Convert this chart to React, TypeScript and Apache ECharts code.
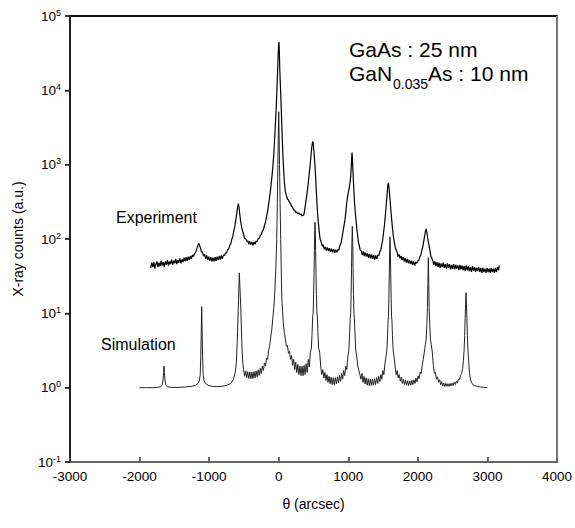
import React, { useEffect, useRef } from "react";
import * as echarts from "echarts";

// Tick values
const xTicks = [-3000, -2000, -1000, 0, 1000, 2000, 3000, 4000];
const yTicks = [0.1, 1, 10, 100, 1000, 10000, 100000];
const yMin = 0.1;
const yMax = 100000;

// Experiment curve [theta (arcsec), counts]
const experiment: [number, number][] = [
  [-1840, 41], [-1825, 48], [-1810, 42], [-1795, 49], [-1780, 40], [-1765, 46], [-1750, 50], [-1735, 42],
  [-1720, 48], [-1705, 43], [-1690, 51], [-1675, 44], [-1660, 49], [-1645, 42], [-1630, 50], [-1615, 45],
  [-1600, 52], [-1585, 44], [-1570, 50], [-1555, 46], [-1540, 53], [-1525, 45], [-1510, 51], [-1495, 47],
  [-1480, 54], [-1465, 46], [-1450, 52], [-1435, 48], [-1420, 55], [-1405, 47], [-1390, 53], [-1375, 49],
  [-1360, 56], [-1345, 50], [-1330, 57], [-1315, 51], [-1300, 58], [-1285, 52], [-1270, 59], [-1255, 54],
  [-1240, 61], [-1225, 58], [-1210, 64], [-1195, 66], [-1180, 73], [-1165, 80], [-1150, 88], [-1138, 82],
  [-1125, 75], [-1110, 68], [-1095, 66], [-1080, 59], [-1065, 62], [-1050, 54], [-1035, 60], [-1020, 52],
  [-1005, 58], [-990, 51], [-975, 57], [-960, 50], [-945, 56], [-930, 50], [-915, 57], [-900, 51],
  [-885, 58], [-870, 52], [-855, 59], [-840, 53], [-825, 60], [-810, 54], [-795, 61], [-780, 60],
  [-765, 65], [-750, 65], [-735, 71], [-720, 73], [-705, 81], [-690, 86], [-675, 98], [-660, 109],
  [-645, 129], [-630, 150], [-615, 185], [-600, 230], [-590, 270], [-580, 300], [-570, 265], [-560, 215],
  [-548, 175], [-535, 148], [-520, 128], [-505, 116], [-490, 102], [-475, 101], [-460, 93], [-445, 95],
  [-430, 85], [-415, 93], [-400, 84], [-385, 91], [-370, 82], [-355, 91], [-340, 85], [-325, 94],
  [-310, 93], [-295, 101], [-280, 102], [-265, 112], [-250, 115], [-235, 128], [-220, 134], [-205, 152],
  [-190, 168], [-175, 200], [-160, 233], [-145, 292], [-130, 368], [-115, 482], [-100, 650], [-85, 920],
  [-70, 1400], [-58, 2300], [-47, 3600], [-37, 5500], [-28, 9000], [-18, 16000], [-9, 28000], [-2, 40000],
  [3, 45000], [8, 36000], [15, 20000], [22, 13000], [29, 9000], [38, 5200], [48, 2700], [58, 1500],
  [68, 950], [80, 600], [95, 440], [110, 385], [125, 345], [140, 335], [155, 310], [170, 300],
  [185, 276], [200, 266], [215, 246], [230, 244], [245, 228], [260, 230], [275, 218], [290, 224],
  [305, 212], [320, 216], [335, 205], [350, 208], [362, 212], [375, 252], [388, 308], [402, 382],
  [415, 468], [428, 605], [440, 775], [452, 1000], [463, 1300], [474, 1650], [483, 1950], [490, 2050],
  [497, 1900], [505, 1550], [513, 1250], [522, 950], [530, 700], [538, 500], [546, 350], [555, 250],
  [565, 185], [575, 148], [585, 120], [595, 100], [610, 92], [625, 80], [640, 84], [655, 73],
  [670, 78], [685, 70], [700, 77], [715, 69], [730, 75], [745, 67], [760, 74], [775, 66],
  [790, 73], [805, 65], [820, 72], [835, 66], [850, 72], [865, 71], [880, 82], [895, 87],
  [905, 98], [918, 115], [930, 135], [942, 158], [953, 182], [965, 230], [977, 300], [988, 360],
  [1000, 417], [1012, 480], [1024, 560], [1035, 700], [1043, 950], [1050, 1300], [1054, 1450], [1058, 1300],
  [1064, 950], [1073, 630], [1082, 420], [1092, 290], [1102, 220], [1111, 182], [1122, 140], [1135, 112],
  [1147, 90], [1159, 81], [1172, 71], [1185, 70], [1200, 61], [1215, 68], [1230, 59], [1245, 66],
  [1260, 58], [1275, 64], [1290, 56], [1305, 63], [1320, 55], [1335, 62], [1350, 54], [1365, 61],
  [1380, 53], [1395, 60], [1410, 54], [1425, 61], [1440, 60], [1455, 68], [1468, 71], [1480, 82],
  [1492, 94], [1505, 118], [1517, 145], [1528, 182], [1540, 250], [1552, 340], [1562, 440], [1570, 540],
  [1576, 570], [1583, 520], [1592, 420], [1602, 320], [1613, 240], [1624, 182], [1635, 140], [1647, 110],
  [1660, 92], [1672, 80], [1685, 72], [1700, 67], [1715, 58], [1730, 62], [1745, 55], [1760, 59],
  [1775, 52], [1790, 57], [1805, 50], [1820, 55], [1835, 48], [1850, 54], [1865, 47], [1880, 52],
  [1895, 46], [1910, 51], [1925, 45], [1940, 50], [1955, 44], [1970, 49], [1985, 47], [2000, 51],
  [2015, 52], [2030, 58], [2045, 61], [2058, 71], [2070, 77], [2082, 91], [2094, 104], [2106, 123],
  [2118, 137], [2128, 125], [2138, 108], [2150, 93], [2162, 81], [2175, 69], [2188, 58], [2200, 55],
  [2215, 51], [2230, 45], [2245, 50], [2260, 43], [2275, 49], [2290, 42], [2305, 48], [2320, 41],
  [2335, 47], [2350, 42], [2365, 48], [2380, 41], [2395, 46], [2410, 40], [2425, 47], [2440, 41],
  [2455, 46], [2470, 39], [2485, 45], [2500, 40], [2515, 46], [2530, 39], [2545, 45], [2560, 40],
  [2575, 44], [2590, 38], [2605, 45], [2620, 39], [2635, 44], [2650, 38], [2665, 43], [2680, 37],
  [2695, 44], [2710, 38], [2725, 43], [2740, 37], [2755, 42], [2770, 36], [2785, 43], [2800, 37],
  [2815, 42], [2830, 36], [2845, 41], [2860, 37], [2875, 42], [2890, 36], [2905, 41], [2920, 35],
  [2935, 41], [2950, 36], [2965, 40], [2980, 35], [2995, 41], [3010, 36], [3025, 40], [3040, 35],
  [3055, 41], [3070, 36], [3085, 40], [3100, 35], [3115, 41], [3130, 36], [3145, 42], [3160, 38],
  [3170, 44],
];

// Simulation curve [theta (arcsec), counts]
const simulation: [number, number][] = [
  [-2000, 1.0], [-1900, 1.0], [-1800, 1.0], [-1740, 1.01], [-1700, 1.03], [-1675, 1.08], [-1662, 1.3],
  [-1655, 1.6], [-1649, 1.95], [-1643, 1.6], [-1636, 1.3], [-1623, 1.08], [-1600, 1.03], [-1550, 1.01],
  [-1450, 1.01], [-1350, 1.02], [-1260, 1.04], [-1200, 1.07], [-1160, 1.14], [-1140, 1.25], [-1128, 1.5],
  [-1120, 2.6], [-1113, 6], [-1107, 12.3], [-1101, 6], [-1094, 2.6], [-1086, 1.5], [-1074, 1.25],
  [-1054, 1.14], [-1010, 1.07], [-950, 1.04], [-870, 1.03], [-800, 1.05], [-740, 1.08], [-690, 1.14],
  [-650, 1.3], [-625, 1.6], [-608, 2.2], [-595, 4.5], [-580, 12.5], [-566, 35], [-546, 12.5],
  [-527, 3.3], [-515, 2.1],
  [-505, 1.75], [-490, 1.42], [-475, 1.68], [-460, 1.36], [-445, 1.64], [-430, 1.33], [-415, 1.62],
  [-400, 1.32], [-385, 1.62], [-370, 1.33], [-355, 1.64], [-340, 1.36], [-325, 1.68], [-310, 1.4],
  [-295, 1.74], [-280, 1.46], [-265, 1.82], [-250, 1.55], [-235, 1.95], [-220, 1.7], [-205, 2.15],
  [-190, 1.95], [-175, 2.5], [-160, 2.4], [-145, 3.2], [-130, 3.6], [-115, 4.8], [-100, 6], [-85, 8.5],
  [-70, 12], [-55, 20], [-40, 45], [-29, 98], [-20, 300], [-12, 1000], [-6, 2500], [0, 5150],
  [6, 2500], [12, 1000], [20, 300], [29, 98], [43, 17], [55, 11], [66, 7.5], [80, 5.5], [95, 4.6],
  [110, 3.6], [125, 3.7], [140, 2.9], [155, 3.1], [170, 2.4], [185, 2.7], [200, 2.0], [215, 2.4],
  [230, 1.75], [245, 2.2], [260, 1.6], [275, 2.05], [290, 1.5], [305, 1.95], [320, 1.45], [335, 1.95],
  [350, 1.45], [365, 2.0], [380, 1.5], [395, 2.1], [410, 1.6], [425, 2.4], [440, 1.9], [455, 3.0],
  [470, 3.4], [480, 5.5], [488, 9], [495, 10], [502, 18], [508, 35], [513, 70], [518, 130], [522, 168],
  [526, 130], [531, 70], [536, 35], [542, 18], [549, 10], [556, 9], [564, 5.5], [574, 3.4], [589, 3.0],
  [604, 1.9], [619, 1.5], [634, 1.75], [649, 1.35], [664, 1.6], [679, 1.25], [694, 1.5], [709, 1.18],
  [724, 1.42], [739, 1.13], [754, 1.38], [769, 1.1], [784, 1.36], [799, 1.1], [814, 1.36], [829, 1.12],
  [844, 1.4], [859, 1.16], [874, 1.46], [889, 1.22], [904, 1.55], [919, 1.3], [934, 1.7], [949, 1.45],
  [964, 1.95], [979, 1.75], [994, 2.6], [1009, 3.2], [1020, 5.5], [1028, 8.5], [1035, 10], [1041, 18],
  [1047, 40], [1052, 90], [1058, 148], [1064, 90], [1069, 40], [1075, 18], [1081, 10], [1088, 8.5],
  [1096, 5.5], [1107, 3.2], [1122, 2.6], [1137, 1.95], [1152, 1.7], [1167, 1.5], [1182, 1.3],
  [1197, 1.55], [1212, 1.18], [1227, 1.42], [1242, 1.12], [1257, 1.36], [1272, 1.08], [1287, 1.32],
  [1302, 1.07], [1317, 1.3], [1332, 1.07], [1347, 1.3], [1362, 1.08], [1377, 1.32], [1392, 1.1],
  [1407, 1.36], [1422, 1.14], [1437, 1.42], [1452, 1.2], [1467, 1.5], [1482, 1.3], [1497, 1.7],
  [1512, 1.5], [1527, 2.1], [1542, 2.6], [1555, 3.2], [1565, 5], [1572, 8], [1578, 9], [1584, 16],
  [1590, 35], [1595, 70], [1600, 107], [1605, 70], [1610, 35], [1616, 16], [1622, 9], [1628, 8],
  [1635, 5], [1645, 3.2], [1658, 2.6], [1673, 1.95], [1688, 1.5], [1703, 1.7], [1718, 1.35],
  [1733, 1.5], [1748, 1.22], [1763, 1.38], [1778, 1.14], [1793, 1.3], [1808, 1.1], [1823, 1.26],
  [1838, 1.08], [1853, 1.24], [1868, 1.07], [1883, 1.23], [1898, 1.08], [1913, 1.25], [1928, 1.1],
  [1943, 1.28], [1958, 1.14], [1973, 1.34], [1988, 1.2], [2003, 1.44], [2018, 1.32], [2033, 1.62],
  [2048, 1.55], [2063, 2.0], [2078, 2.4], [2093, 3.0], [2108, 3.8], [2120, 4.5], [2130, 7], [2138, 12],
  [2144, 25], [2151, 56], [2157, 25], [2163, 12], [2171, 7], [2181, 4.5], [2193, 3.8], [2208, 3.0],
  [2223, 2.0], [2238, 1.55], [2253, 1.6], [2268, 1.3], [2283, 1.4], [2298, 1.18], [2313, 1.28],
  [2328, 1.1], [2343, 1.2], [2358, 1.06], [2373, 1.16], [2388, 1.04], [2403, 1.14], [2418, 1.04],
  [2433, 1.13], [2448, 1.04], [2463, 1.14], [2478, 1.05], [2493, 1.15], [2508, 1.07], [2523, 1.18],
  [2538, 1.1], [2553, 1.22], [2568, 1.15], [2583, 1.3], [2598, 1.28], [2613, 1.45], [2628, 1.55],
  [2643, 1.8], [2655, 2.3], [2665, 3.2], [2673, 5], [2680, 8.5], [2686, 13], [2693, 19], [2699, 13],
  [2705, 8.5], [2712, 5], [2720, 3.2], [2730, 2.3], [2742, 1.6], [2755, 1.3], [2770, 1.18], [2790, 1.1],
  [2820, 1.06], [2860, 1.04], [2900, 1.02], [2950, 1.01], [3000, 1.0],
];

// Texts
const xAxisName = "θ (arcsec)";
const yAxisName = "X-ray counts (a.u.)";
const experimentLabel = "Experiment";
const simulationLabel = "Simulation";
const layerLine1 = "GaAs : 25 nm";
const layerLine2a = "GaN";
const layerLine2sub = "0.035";
const layerLine2b = "As : 10 nm";

const FONT = "Liberation Sans, Arial, sans-serif";

export default function App() {
  const ref = useRef<HTMLDivElement>(null);
  useEffect(() => {
    if (!ref.current) return;
    const chart = echarts.init(ref.current, undefined, { renderer: "svg" });
    chart.setOption({
      animation: false,
      backgroundColor: "#fff",
      grid: {
        left: 70,
        top: 16,
        width: 487,
        height: 446,
        show: true,
        borderColor: "#777",
        borderWidth: 2,
      },
      xAxis: [
        {
          type: "value",
          min: xTicks[0],
          max: xTicks[xTicks.length - 1],
          interval: 1000,
          name: xAxisName,
          nameLocation: "middle",
          nameGap: 35,
          nameTextStyle: { fontSize: 14, color: "#000", fontFamily: FONT },
          axisLine: { show: true, onZero: false, lineStyle: { color: "#666", width: 2 } },
          axisTick: { show: true, inside: true, length: 5, lineStyle: { color: "#444", width: 1.5 } },
          axisLabel: {
            fontSize: 13.5,
            color: "#000",
            margin: 7,
            fontFamily: FONT,
            formatter: (v: number) => String(v),
          },
          splitLine: { show: false },
        },
        {
          type: "value",
          position: "top",
          min: xTicks[0],
          max: xTicks[xTicks.length - 1],
          axisLine: { show: true, onZero: false, lineStyle: { color: "#000", width: 1.5 } },
          axisTick: { show: false },
          axisLabel: { show: false },
          splitLine: { show: false },
        },
      ],
      yAxis: [
        {
          type: "log",
          logBase: 10,
          min: yMin,
          max: yMax,
          name: yAxisName,
          nameLocation: "middle",
          nameGap: 45,
          nameTextStyle: { fontSize: 14, color: "#000", fontFamily: FONT },
          axisLine: { show: true, onZero: false, lineStyle: { color: "#222", width: 2 } },
          axisTick: { show: true, inside: false, length: 5, lineStyle: { color: "#222", width: 1.5 } },
          axisLabel: {
            color: "#000",
            margin: 9,
            formatter: (v: number) => {
              const e = Math.round(Math.log10(v));
              return `{b|10}{s|${e}}`;
            },
            rich: {
              b: { fontSize: 13.5, lineHeight: 16, fontFamily: FONT, color: "#000" },
              s: { fontSize: 9, lineHeight: 10, verticalAlign: "top", fontFamily: FONT, color: "#000" },
            },
          },
          splitLine: { show: false },
        },
      ],
      series: [
        {
          type: "line",
          name: "Simulation",
          data: simulation,
          showSymbol: false,
          lineStyle: { color: "#222", width: 1 },
        },
        {
          type: "line",
          name: "Experiment",
          data: experiment,
          showSymbol: false,
          lineStyle: { color: "#000", width: 1.2 },
        },
      ],
    });

    // Frame and ticks placed through the axes' own scales
    const px = (v: number) => chart.convertToPixel({ xAxisIndex: 0 }, v) as number;
    const py = (v: number) => chart.convertToPixel({ yAxisIndex: 0 }, v) as number;
    const L = px(xTicks[0]);
    const R = px(xTicks[xTicks.length - 1]);
    const T = py(yMax);
    const B = py(yMin);
    const frame: any[] = [
      { type: "line", z: 100, shape: { x1: L, y1: T, x2: R, y2: T }, style: { stroke: "#000", lineWidth: 1.2 } },
      { type: "line", z: 100, shape: { x1: R, y1: T, x2: R, y2: B }, style: { stroke: "#777", lineWidth: 2 } },
      { type: "line", z: 100, shape: { x1: L, y1: T, x2: L, y2: B + 1 }, style: { stroke: "#222", lineWidth: 1.5 } },
      { type: "line", z: 100, shape: { x1: L, y1: B, x2: R, y2: B }, style: { stroke: "#666", lineWidth: 1.5 } },
    ];
    const xTickMarks = xTicks.map((t) => ({
      type: "line",
      z: 100,
      shape: { x1: px(t), y1: B, x2: px(t), y2: B - 4 },
      style: { stroke: "#555", lineWidth: 1 },
    }));
    const yTickMarks = yTicks.map((t) => ({
      type: "line",
      z: 100,
      shape: { x1: L - 5, y1: py(t), x2: L, y2: py(t) },
      style: { stroke: "#222", lineWidth: 1 },
    }));
    const texts: any[] = [
      { type: "text", z: 100, left: 116, top: 209, style: { text: experimentLabel, fontSize: 16, fontFamily: FONT, fill: "#000" } },
      { type: "text", z: 100, left: 101, top: 336, style: { text: simulationLabel, fontSize: 16, fontFamily: FONT, fill: "#000" } },
      { type: "text", z: 100, left: 349, top: 39, style: { text: layerLine1, fontSize: 21, fontFamily: FONT, fill: "#000" } },
      { type: "text", z: 100, left: 349, top: 63, style: { text: layerLine2a, fontSize: 21, fontFamily: FONT, fill: "#000" } },
      { type: "text", z: 100, left: 393, top: 77, style: { text: layerLine2sub, fontSize: 14, fontFamily: FONT, fill: "#000" } },
      { type: "text", z: 100, left: 428, top: 63, style: { text: layerLine2b, fontSize: 21, fontFamily: FONT, fill: "#000" } },
    ];
    chart.setOption({ graphic: [...frame, ...xTickMarks, ...yTickMarks, ...texts] });

    return () => chart.dispose();
  }, []);
  return <div ref={ref} style={{ position: "fixed", left: 0, top: 0, width: 575, height: 528 }} />;
}
